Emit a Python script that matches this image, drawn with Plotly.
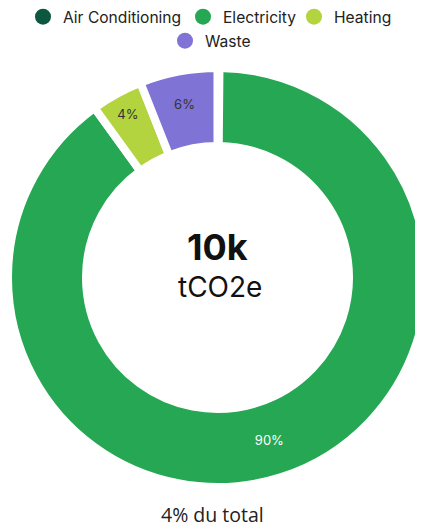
import plotly.graph_objects as go

categories = ["Air Conditioning", "Electricity", "Heating", "Waste"]
values = [0.15, 90, 4, 6]
colors = ["#0d5640", "#25a753", "#b3d33f", "#7f74d6"]
slice_labels = ["", "90%", "4%", "6%"]
label_colors = ["#ffffff", "#ffffff", "#333333", "#333333"]
center_value = "10k"
center_unit = "tCO2e"
footer = "4% du total"

W, H = 423, 528
# page content is offset by 8px (body margin); positions below are figure pixels
cx, cy, R = 209.5, 269.5, 209.5
stroke = 8
inner_visible = 135.5

legend_ids = ["legend", "legend2", "legend3", "legend4"]
legend_left = [15, 175, 286, 157]
legend_mid = [9, 9, 9, 33]

fig = go.Figure()
fig.add_trace(go.Pie(
    labels=categories, values=values, sort=False, direction="clockwise",
    rotation=0, hole=(inner_visible - stroke / 2) / R,
    marker=dict(colors=colors, line=dict(color="white", width=stroke)),
    text=slice_labels, textinfo="text", textposition="inside",
    insidetextorientation="horizontal",
    insidetextfont=dict(color=label_colors, size=13, family="Inter"),
    showlegend=False, hoverinfo="label+percent",
    domain=dict(x=[(cx - R) / W, (cx + R) / W],
                y=[1 - (cy + R) / H, 1 - (cy - R) / H]),
))
for c, col, lg in zip(categories, colors, legend_ids):
    fig.add_trace(go.Scatter(x=[None], y=[None], mode="markers", name=c, legend=lg,
                             marker=dict(color=col, size=16, symbol="circle")))

fig.add_annotation(x=cx/W, y=1-239/H, xref="paper", yref="paper",
                   xanchor="center", yanchor="middle",
                   text="<b>%s</b>" % center_value, showarrow=False,
                   font=dict(family="Inter", size=36, color="#111111"))
fig.add_annotation(x=(cx + 2)/W, y=1-279/H, xref="paper", yref="paper",
                   xanchor="center", yanchor="middle",
                   text=center_unit, showarrow=False,
                   font=dict(family="Inter", size=28, color="#111111"))
fig.add_annotation(x=204.5/W, y=1-506/H, xref="paper", yref="paper",
                   xanchor="center", yanchor="middle",
                   text=footer, showarrow=False,
                   font=dict(family="Open Sans", size=19.5, color="#222222"))

legend_font = dict(family="Inter", size=15.6, color="#222222")
layout_legends = {}
for lg, lx, ly in zip(legend_ids, legend_left, legend_mid):
    layout_legends[lg] = dict(orientation="h", x=lx/W, xanchor="left", y=1-ly/H,
                              yanchor="middle", font=legend_font, itemsizing="trace",
                              bgcolor="rgba(0,0,0,0)")
fig.update_layout(
    width=W, height=H, margin=dict(l=0, r=0, t=0, b=0, autoexpand=False),
    paper_bgcolor="white", plot_bgcolor="white",
    xaxis=dict(visible=False), yaxis=dict(visible=False),
    **layout_legends,
)
fig.write_html("out.html")
